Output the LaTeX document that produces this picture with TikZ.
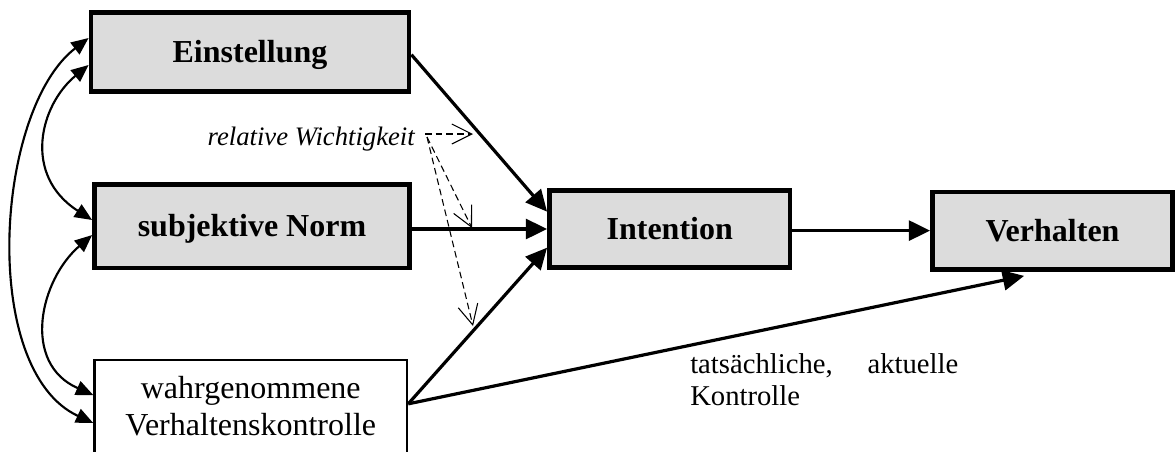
\documentclass[tikz,border=0pt]{standalone}
\usepackage{fontspec}
\setmainfont{Liberation Serif}
\usetikzlibrary{arrows.meta}
\definecolor{boxgrey}{RGB}{220,220,220}

\begin{document}
\begin{tikzpicture}[x=0.75pt,y=-0.75pt,
  mainbox/.style={draw, line width=3.6pt, fill=boxgrey, inner sep=0pt,
    font=\fontsize{24}{28}\selectfont\bfseries, text height=16pt, text depth=0pt},
  plainbox/.style={draw, line width=1.8pt, fill=white, inner sep=0pt},
  flow/.style={line width=2.4pt, -{Triangle[length=16pt,width=15pt]}},
  corr/.style={line width=1.6pt,
    {Triangle[length=13pt,width=11pt]}-{Triangle[length=13pt,width=11pt]}},
  weight/.style={dashed, dash pattern=on 5pt off 3pt, line width=0.8pt,
    -{Straight Barb[length=15pt,width=15pt]}},
]
\useasboundingbox (0,0) rectangle (1176,451);
\clip (0,0) rectangle (1176,451);

% the five constructs
\node[mainbox, minimum width=238.5pt, minimum height=59.25pt] (ein) at (250,52) {Einstellung};
\node[mainbox, minimum width=236.25pt, minimum height=62.6pt] (norm) at (252,226.25) {subjektive Norm};
\node[plainbox, anchor=north, minimum width=234.4pt, minimum height=112.5pt] (wahr) at (250.75,358.5) {};
\node[font=\fontsize{24}{27.75}\selectfont, align=center, anchor=north, inner sep=0pt] (wahrtext)
  at (250.75,376.5) {wahrgenommene\\Verhaltenskontrolle};
\node[mainbox, minimum width=180.4pt, minimum height=57.75pt] (int) at (669.75,229) {Intention};
\node[mainbox, minimum width=180pt, minimum height=58.1pt] (verh) at (1052.5,230.75) {Verhalten};

% labels
\node[font=\fontsize{20}{24}\selectfont\itshape, anchor=base east, inner sep=0pt] (rw)
  at (415,145) {relative Wichtigkeit};
\node[font=\fontsize{21.5}{24}\selectfont, text width=201pt, align=left, anchor=north west, inner sep=0pt] (ctrl)
  at (690,353.5) {tatsächliche,\hfill aktuelle\\Kontrolle};

% main paths
\draw[flow] ([yshift=-2pt]ein.east) -- ([yshift=13pt]int.west);
\draw[flow] (norm.east |- int.west) -- (int.west);
\draw[flow] ([yshift=-34pt]wahr.north east) -- ([yshift=-14pt]int.west);
\draw[flow] ([yshift=-34pt]wahr.north east) -- ([xshift=70.5pt,yshift=-3pt]verh.south west);
\draw[flow] ([yshift=-1.2pt]int.east) -- ([yshift=-1.2pt]int.east -| verh.west);

% correlations between the predictors
\draw[corr] ([yshift=10.5pt]ein.west) .. controls (-5,110) and (-21,370) .. ([yshift=-48.4pt]wahr.north west);
\draw[corr] ([yshift=-9.75pt]ein.west) .. controls (40,105) and (22,175) .. ([yshift=4.7pt]norm.west);
\draw[corr] ([yshift=-6.6pt]norm.west) .. controls (40,280) and (21,363) .. ([yshift=-27.4pt]wahr.north west);

% relative weights
\coordinate (rwa) at (425,134);
\coordinate (rwb) at (427,137);
\coordinate (w1) at (473,134);
\coordinate (w2) at (472,228);
\coordinate (w3) at (473,326);
\draw[weight] (rwa) -- (w1);
\draw[weight] (rwb) -- (w2);
\draw[weight] (rwb) -- (w3);
\end{tikzpicture}
\end{document}
